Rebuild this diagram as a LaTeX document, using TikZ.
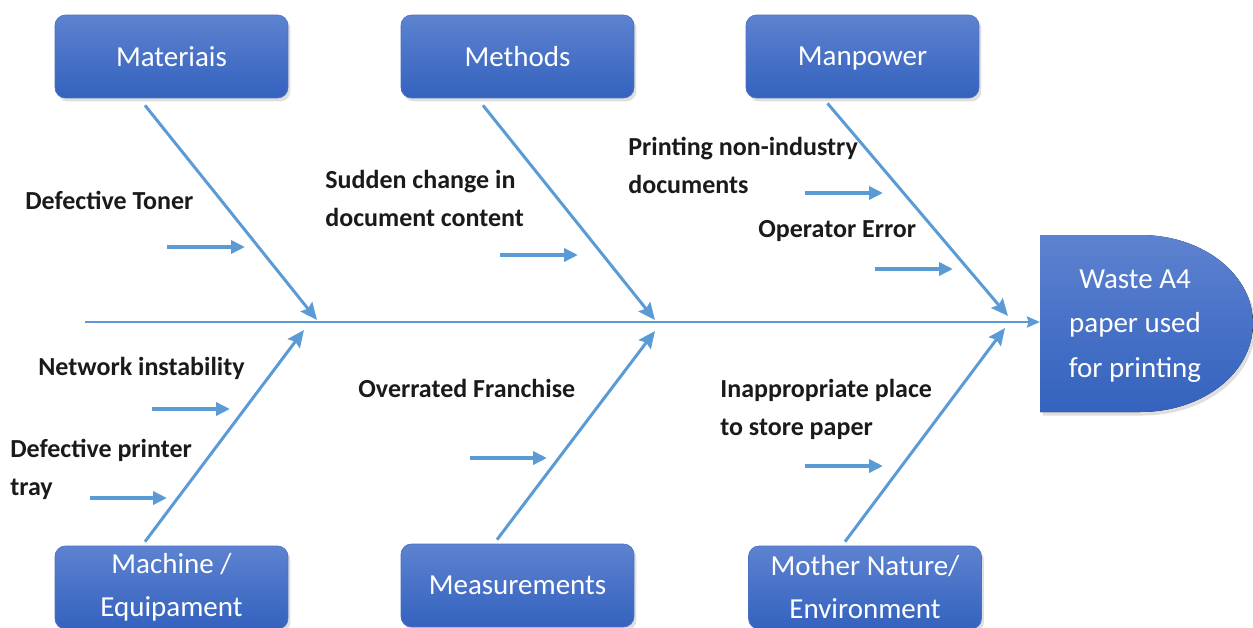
\documentclass[tikz,border=0pt]{standalone}
\usepackage{fontspec}
\setmainfont{Carlito}
\usetikzlibrary{arrows.meta, calc, shadows}
\definecolor{bonecol}{HTML}{5B9BD5}
\definecolor{boxtop}{HTML}{5D82D0}
\definecolor{boxbot}{HTML}{3462BE}
\definecolor{boxedge}{HTML}{4A72C4}
\definecolor{ink}{HTML}{1A1A1A}
\tikzset{
  cat/.style     = {rectangle, rounded corners=6pt, draw=boxedge, line width=0.4pt,
                    top color=boxtop, bottom color=boxbot, text=white,
                    minimum width=4.66cm, minimum height=1.66cm, align=center,
                    font=\fontsize{16.5}{24.5}\selectfont, inner sep=0pt,
                    drop shadow={shadow xshift=0.5mm, shadow yshift=-0.7mm, opacity=0.25}},
  cause/.style   = {font=\fontsize{14.8}{21.5}\selectfont\bfseries, text=ink,
                    align=left, inner sep=0pt},
  bone/.style    = {-{Stealth[length=3.4mm, width=3mm, inset=0.5mm]}, line width=1.7pt, draw=bonecol},
  spine/.style   = {-{Stealth[length=2.6mm, width=2.2mm, inset=0.3mm]}, line width=1.4pt, draw=bonecol},
  cue/.style     = {-{Triangle[length=2.8mm, width=2.6mm]}, line width=2.4pt, draw=bonecol},
}

\begin{document}
\begin{tikzpicture}[x=0.02cm, y=-0.02cm]
\useasboundingbox (0,0) rectangle (1253,628);

% ---- Category boxes ----
\node[cat] (mat) at (171.5,56.5) {Materiais};
\node[cat] (met) at (517.5,56.5) {Methods};
\node[cat, text depth=0pt] (man) at (862.5,56.5) {Manpower};
\node[cat] (mac) at (171.5,587.5) {Machine /\\ Equipament};
\node[cat] (mea) at (517.5,585.5) {Measurements};
\node[cat] (env) at (865,587.5) {Mother Nature/\\ Environment};

% ---- Effect (head) ----
\fill[top color=boxtop, bottom color=boxbot,
      drop shadow={shadow xshift=0.5mm, shadow yshift=-0.7mm, opacity=0.25}]
  (1040,235) -- (1140,235) .. controls (1204,235) and (1253,275) .. (1253,323.5)
  .. controls (1253,372) and (1204,412) .. (1140,412) -- (1040,412) -- cycle;
\node[text=white, align=center, font=\fontsize{16.5}{25.5}\selectfont] (effect) at (1135,326)
  {Waste A4\\ paper used\\ for printing};
\coordinate (head) at (1040,322);

% ---- Spine ----
\coordinate (tail) at (85,322);
\draw[spine] (tail) -- (head);

% ---- Bones ----
\coordinate (jmat) at (317,320);
\coordinate (jmet) at (655,320);
\coordinate (jman) at (1008,316);
\coordinate (jmac) at (304,330);
\coordinate (jmea) at (655,331);
\coordinate (jenv) at (1005,328);
\draw[bone] ($(mat.south)+(-26.5,7)$) -- (jmat);
\draw[bone] ($(met.south)+(-34.5,7)$) -- (jmet);
\draw[bone] ($(man.south)+(-35,5)$) -- (jman);
\draw[bone] ($(mac.north)+(-26.5,-4)$) -- (jmac);
\draw[bone] ($(mea.north)+(-20.5,-4)$) -- (jmea);
\draw[bone] ($(env.north)+(-20,-4)$) -- (jenv);

% ---- Causes ----
\node[cause, anchor=west] (c1) at (25,200) {Defective Toner};
\node[cause, anchor=north west] (c2) at (325,170) {Sudden change in\\ document content};
\node[cause, anchor=north west] (c3) at (628,137) {Printing non-industry\\ documents};
\node[cause, anchor=west] (c4) at (758,231) {Operator Error};
\node[cause, anchor=west] (c5) at (38,368) {Network instability};
\node[cause, anchor=north west] (c6) at (10,439) {Defective printer\\ tray};
\node[cause, anchor=west] (c7) at (358,388) {Overrated Franchise};
\node[cause, anchor=north west] (c8) at (720,379) {Inappropriate place\\ to store paper};

% ---- Cue arrows ----
\draw[cue] (167,247) -- ++(78,0);
\draw[cue] (500,255) -- ++(78,0);
\draw[cue] (805,193) -- ++(78,0);
\draw[cue] (875,269) -- ++(78,0);
\draw[cue] (152,409) -- ++(78,0);
\draw[cue] (90,498) -- ++(77,0);
\draw[cue] (470,458) -- ++(77,0);
\draw[cue] (805,466) -- ++(78,0);

\end{tikzpicture}
\end{document}
